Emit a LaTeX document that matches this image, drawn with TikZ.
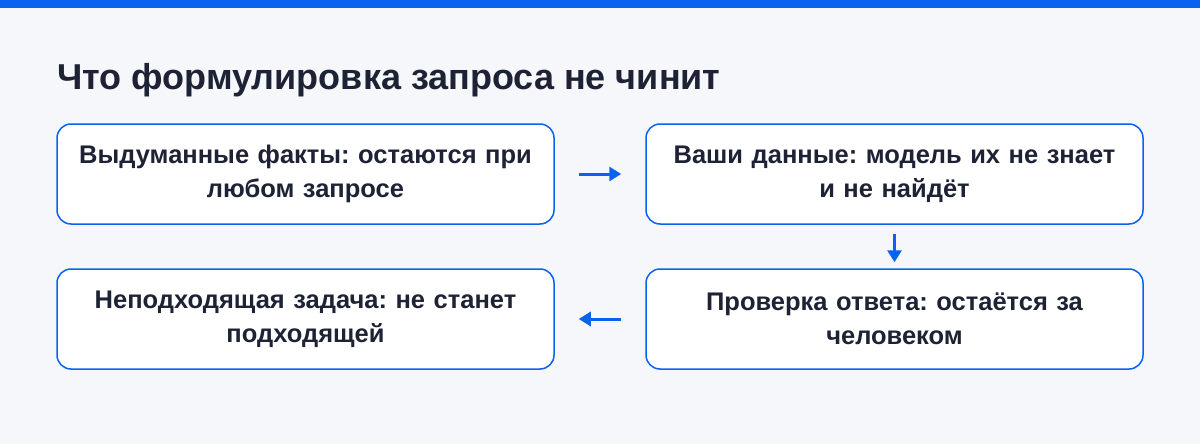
\documentclass[tikz,border=0pt]{standalone}
\usepackage{fontspec}
\setmainfont{Liberation Sans}
\usetikzlibrary{arrows.meta}
\definecolor{bg}{HTML}{F6F7FB}
\definecolor{blue}{HTML}{0A62F0}
\definecolor{ink}{HTML}{1E2235}
\begin{document}
\frenchspacing
\begin{tikzpicture}[x=1pt,y=-1pt,
  box/.style={draw=blue,line width=1.5pt,fill=white,rounded corners=14pt,minimum width=497pt,minimum height=100pt,align=center,text width=485pt,font=\bfseries\fontsize{25.5}{34}\selectfont,text=ink},
  arr/.style={draw=blue,line width=3pt,-{Triangle[length=12pt,width=14pt]}}]
\useasboundingbox (0,0) rectangle (1200,444);
\fill[bg] (0,0) rectangle (1200,444);
\fill[blue] (0,0) rectangle (1200,8);
\node[anchor=base west,font=\bfseries\fontsize{36}{42}\selectfont,text=ink,inner sep=0] (title) at (57,89) {Что формулировка запроса не чинит};
\node[box] (b1) at (305.5,174) {Выдуманные факты: остаются при\\любом запросе};
\node[box] (b2) at (894.5,174) {Ваши данные: модель их не знает\\и не найдёт};
\node[box] (b3) at (894.5,319) {Проверка ответа: остаётся за\\человеком};
\node[box] (b4) at (305.5,319) {Неподходящая задача: не станет\\подходящей};
\draw[arr] ([xshift=24pt]b1.east) -- ([xshift=-24pt]b2.west);
\draw[arr] ([yshift=-9pt]b2.south) -- ([yshift=6pt]b3.north);
\draw[arr] ([xshift=-24pt]b3.west) -- ([xshift=24pt]b4.east);
\end{tikzpicture}
\end{document}
